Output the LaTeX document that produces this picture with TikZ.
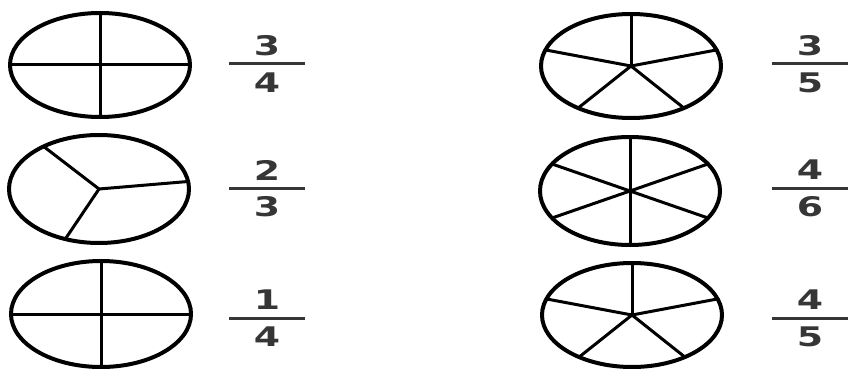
\documentclass[tikz,border=0pt]{standalone}
\usepackage{fontspec}
\newfontfamily\digitfont{DejaVu Sans}
\definecolor{digitgray}{HTML}{363636}

\begin{document}
\begin{tikzpicture}[x=1pt, y=1pt,
    rim/.style={line width=4pt},
    spoke/.style={line width=3pt},
    digit/.style={font=\digitfont\bfseries\fontsize{27}{27}\selectfont, text=digitgray, xscale=1.4, inner sep=0pt},
    bar/.style={line width=3pt, digitgray}]
    \useasboundingbox (0,0) rectangle (848,370);

    % pie shapes
    \coordinate (qa) at (100,305);
    \coordinate (ta) at (99,181);
    \coordinate (qb) at (101,56);
    \coordinate (pa) at (631,304);
    \coordinate (sa) at (630,179);
    \coordinate (pb) at (632,55);

    \draw[rim] (qa) ellipse [x radius=90, y radius=52];
    \foreach \a in {0,90,180,270} \draw[spoke] (qa) -- ++(\a:90 and 52);
    \draw[rim] (ta) ellipse [x radius=90, y radius=54];
    \foreach \a in {8,128,248} \draw[spoke] (ta) -- ++(\a:90 and 54);
    \draw[rim] (qb) ellipse [x radius=90, y radius=53];
    \foreach \a in {0,90,180,270} \draw[spoke] (qb) -- ++(\a:90 and 53);

    \draw[rim] (pa) ellipse [x radius=90, y radius=52];
    \foreach \a in {18,90,162,234,306} \draw[spoke] (pa) -- ++(\a:90 and 52);
    \draw[rim] (sa) ellipse [x radius=90, y radius=54];
    \foreach \a in {30,90,...,330} \draw[spoke] (sa) -- ++(\a:90 and 54);
    \draw[rim] (pb) ellipse [x radius=90, y radius=52];
    \foreach \a in {18,90,162,234,306} \draw[spoke] (pb) -- ++(\a:90 and 52);

    % fractions
    \coordinate (fqa) at (267,306);
    \coordinate (fta) at (267,182);
    \coordinate (fqb) at (267,52);
    \coordinate (fpa) at (810,306);
    \coordinate (fsa) at (810,182);
    \coordinate (fpb) at (810,52);

    \foreach \f/\n/\d in {fqa/3/4, fta/2/3, fqb/1/4, fpa/3/5, fsa/4/6, fpb/4/5} {
        \draw[bar] ([xshift=-38pt]\f) -- ([xshift=38pt]\f);
        \node[digit] (\f-n) at ([yshift=18pt]\f) {\n};
        \node[digit] (\f-d) at ([yshift=-19pt]\f) {\d};
    }
\end{tikzpicture}
\end{document}
